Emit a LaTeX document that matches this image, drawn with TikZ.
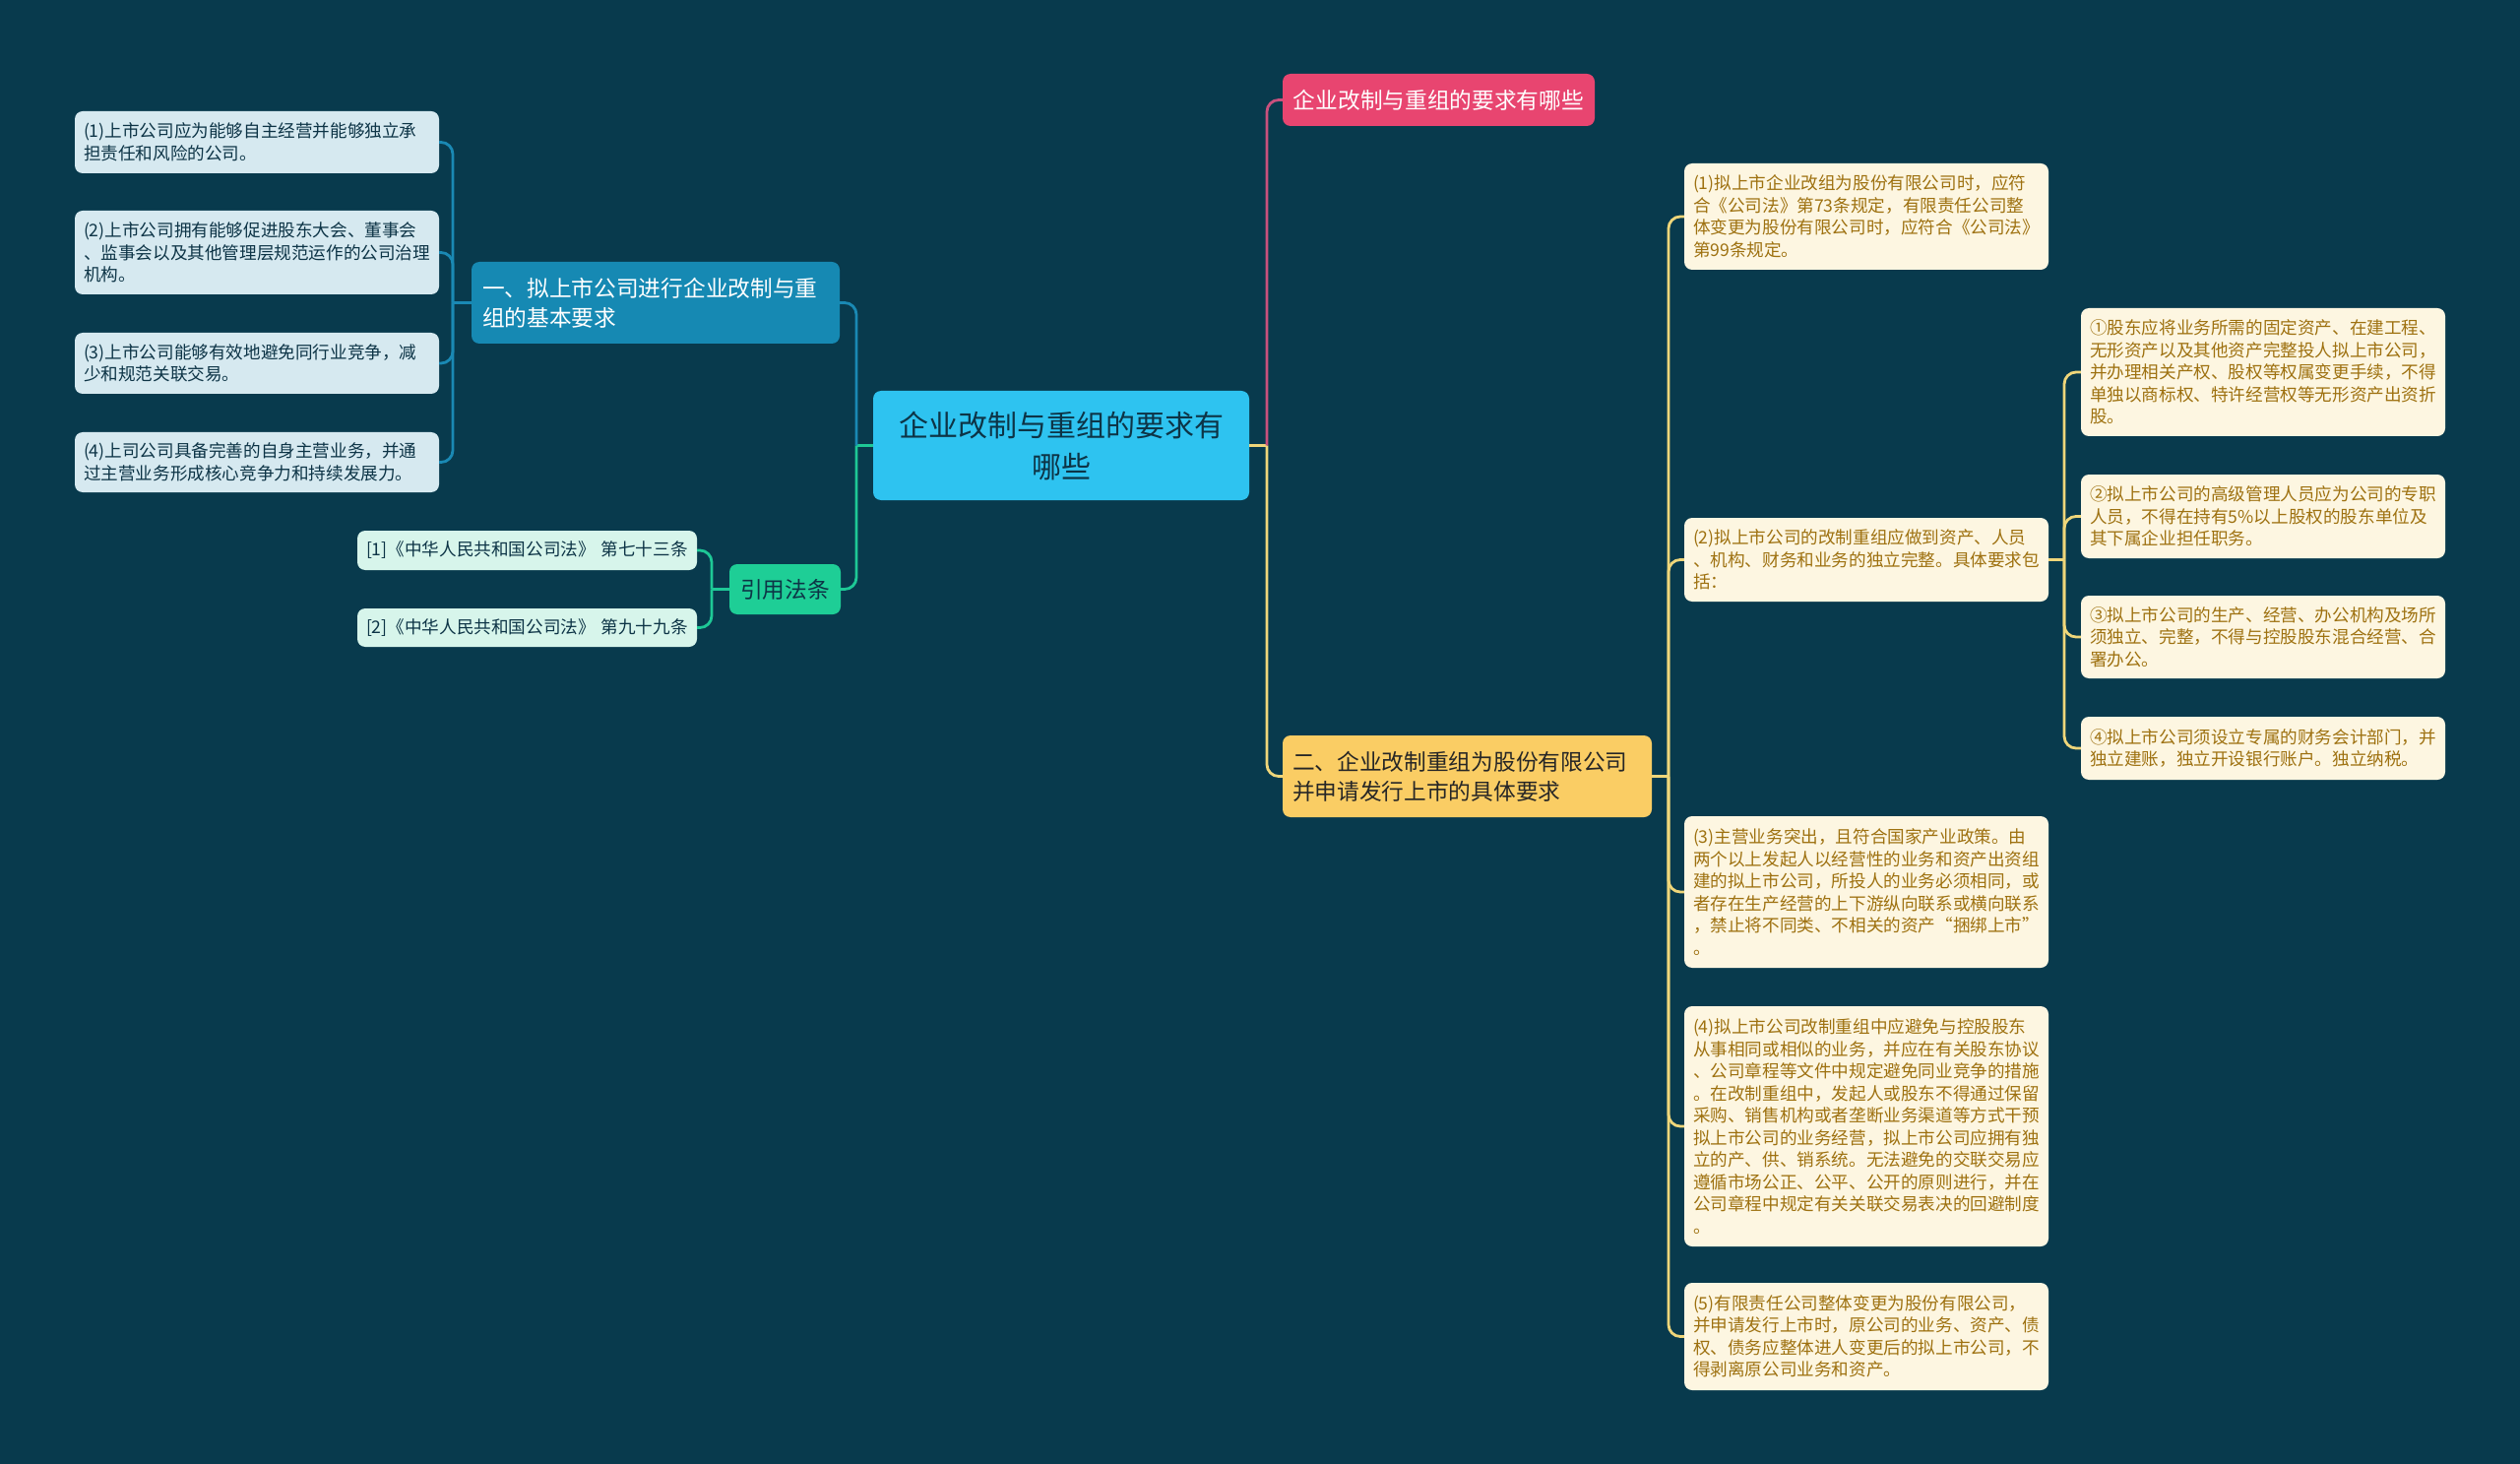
\documentclass[tikz,border=0pt]{standalone}
\usepackage{fontspec}
\setmainfont{Noto Sans CJK SC}
\definecolor{bg}{RGB}{8,58,77}
\definecolor{cenfill}{RGB}{46,195,240}
\definecolor{darktext}{RGB}{13,52,70}
\definecolor{pinkfill}{RGB}{232,69,112}
\definecolor{pinkline}{RGB}{201,80,125}
\definecolor{bluefill}{RGB}{22,137,179}
\definecolor{blueline}{RGB}{26,137,180}
\definecolor{greenfill}{RGB}{30,206,150}
\definecolor{greenline}{RGB}{30,200,150}
\definecolor{yellowfill}{RGB}{250,205,100}
\definecolor{yellowline}{RGB}{239,214,122}
\definecolor{lleaf}{RGB}{214,233,240}
\definecolor{refleaf}{RGB}{215,245,235}
\definecolor{rleaf}{RGB}{253,246,225}
\definecolor{rtext}{RGB}{158,113,16}
\tikzset{
  box/.style={rounded corners=8pt, inner xsep=9pt, inner ysep=0pt, align=left},
  leaffont/.style={font=\fontsize{17.6}{22.5}\selectfont},
  headfont/.style={font=\fontsize{22.7}{30}\selectfont},
  lleafbox/.style={box, leaffont, fill=lleaf, text=darktext, minimum width=370pt, text width=352pt},
  rleafbox/.style={box, leaffont, fill=rleaf, text=rtext, minimum width=370pt, text width=352pt},
  refbox/.style={box, leaffont, fill=refleaf, text=darktext, minimum width=345pt, text width=327pt, inner xsep=9pt},
  conn/.style={line width=2.8pt, rounded corners=12pt},
}
\begin{document}
\begin{tikzpicture}[x=1pt,y=-1pt]
\fill[bg] (0,0) rectangle (2560,1487);
\useasboundingbox (0,0) rectangle (2560,1487);

% central
\node[box, fill=cenfill, text=darktext, align=center, font=\fontsize{30}{42}\selectfont,
      minimum width=382pt, minimum height=111pt] (cen) at (1078,452.5)
  {企业改制与重组的要求有\\哪些};

% pink
\node[box, fill=pinkfill, text=white, headfont, align=center, minimum width=317pt, minimum height=53pt]
  (pink) at (1461.5,101.5) {企业改制与重组的要求有哪些};

% yellow
\node[box, fill=yellowfill, text=black!85, headfont, inner xsep=10pt, text width=355pt, minimum height=83pt]
  (yel) at (1490.5,788.5) {二、企业改制重组为股份有限公司\\并申请发行上市的具体要求};

% blue
\node[box, fill=bluefill, text=white, headfont, inner xsep=11pt, text width=352pt, minimum height=83pt]
  (blu) at (666,307.5) {一、拟上市公司进行企业改制与重\\组的基本要求};

% green
\node[box, fill=greenfill, text=darktext, headfont, align=center, minimum width=113pt, minimum height=51pt]
  (grn) at (797.5,598.5) {引用法条};

% refs
\node[refbox, minimum height=40pt] (ref1) at (535.5,559) {[1]《中华人民共和国公司法》~第七十三条};
\node[refbox, minimum height=39pt] (ref2) at (535.5,637.5) {[2]《中华人民共和国公司法》~第九十九条};

% left leaves
\node[lleafbox, minimum height=63pt] (l1) at (261,144.5)
  {(1)上市公司应为能够自主经营并能够独立承\\担责任和风险的公司。};
\node[lleafbox, minimum height=85pt] (l2) at (261,256.5)
  {(2)上市公司拥有能够促进股东大会、董事会\\、监事会以及其他管理层规范运作的公司治理\\机构。};
\node[lleafbox, minimum height=62pt] (l3) at (261,369)
  {(3)上市公司能够有效地避免同行业竞争，减\\少和规范关联交易。};
\node[lleafbox, minimum height=61pt] (l4) at (261,469.5)
  {(4)上司公司具备完善的自身主营业务，并通\\过主营业务形成核心竞争力和持续发展力。};

% right leaves
\node[rleafbox, minimum height=108pt] (r1) at (1896,220)
  {(1)拟上市企业改组为股份有限公司时，应符\\合《公司法》第73条规定，有限责任公司整\\体变更为股份有限公司时，应符合《公司法》\\第99条规定。};
\node[rleafbox, minimum height=85pt] (r2) at (1896,568.5)
  {(2)拟上市公司的改制重组应做到资产、人员\\、机构、财务和业务的独立完整。具体要求包\\括：};
\node[rleafbox, minimum height=154pt] (r3) at (1896,906)
  {(3)主营业务突出，且符合国家产业政策。由\\两个以上发起人以经营性的业务和资产出资组\\建的拟上市公司，所投人的业务必须相同，或\\者存在生产经营的上下游纵向联系或横向联系\\，禁止将不同类、不相关的资产“捆绑上市”\\。};
\node[rleafbox, minimum height=244pt] (r4) at (1896,1144)
  {(4)拟上市公司改制重组中应避免与控股股东\\从事相同或相似的业务，并应在有关股东协议\\、公司章程等文件中规定避免同业竞争的措施\\。在改制重组中，发起人或股东不得通过保留\\采购、销售机构或者垄断业务渠道等方式干预\\拟上市公司的业务经营，拟上市公司应拥有独\\立的产、供、销系统。无法避免的交联交易应\\遵循市场公正、公平、公开的原则进行，并在\\公司章程中规定有关关联交易表决的回避制度\\。};
\node[rleafbox, minimum height=109pt] (r5) at (1896,1357.5)
  {(5)有限责任公司整体变更为股份有限公司，\\并申请发行上市时，原公司的业务、资产、债\\权、债务应整体进人变更后的拟上市公司，不\\得剥离原公司业务和资产。};

% sub leaves
\node[rleafbox, minimum height=130pt] (s1) at (2299,378)
  {①股东应将业务所需的固定资产、在建工程、\\无形资产以及其他资产完整投人拟上市公司，\\并办理相关产权、股权等权属变更手续，不得\\单独以商标权、特许经营权等无形资产出资折\\股。};
\node[rleafbox, minimum height=85pt] (s2) at (2299,524.5)
  {②拟上市公司的高级管理人员应为公司的专职\\人员，不得在持有5\%以上股权的股东单位及\\其下属企业担任职务。};
\node[rleafbox, minimum height=84pt] (s3) at (2299,647)
  {③拟上市公司的生产、经营、办公机构及场所\\须独立、完整，不得与控股股东混合经营、合\\署办公。};
\node[rleafbox, minimum height=64pt] (s4) at (2299,760)
  {④拟上市公司须设立专属的财务会计部门，并\\独立建账，独立开设银行账户。独立纳税。};

% junctions
\coordinate (jR) at (1287,452.5);
\coordinate (jL) at (870,452.5);
\coordinate (jB) at (460,307.5);
\coordinate (jG) at (723,598.5);
\coordinate (jY) at (1695,788.5);
\coordinate (j2) at (2097,568.5);

% connectors
\draw[conn, yellowline] (cen.east) -- (jR);
\draw[conn, pinkline] (jR) |- (pink.west);
\draw[conn, yellowline] (jR) |- (yel.west);

\draw[conn, greenline] (cen.west) -- (jL);
\draw[conn, blueline] (jL) |- (blu.east);
\draw[conn, greenline] (jL) |- (grn.east);

\draw[conn, blueline] (blu.west) -- (jB);
\foreach \n in {l1,l2,l3,l4} \draw[conn, blueline] (jB) |- (\n.east);

\draw[conn, greenline] (grn.west) -- (jG);
\foreach \n in {ref1,ref2} \draw[conn, greenline] (jG) |- (\n.east);

\draw[conn, yellowline] (yel.east) -- (jY);
\foreach \n in {r1,r2,r3,r4,r5} \draw[conn, yellowline] (jY) |- (\n.west);

\draw[conn, yellowline] (r2.east) -- (j2);
\foreach \n in {s1,s2,s3,s4} \draw[conn, yellowline] (j2) |- (\n.west);
\end{tikzpicture}
\end{document}
